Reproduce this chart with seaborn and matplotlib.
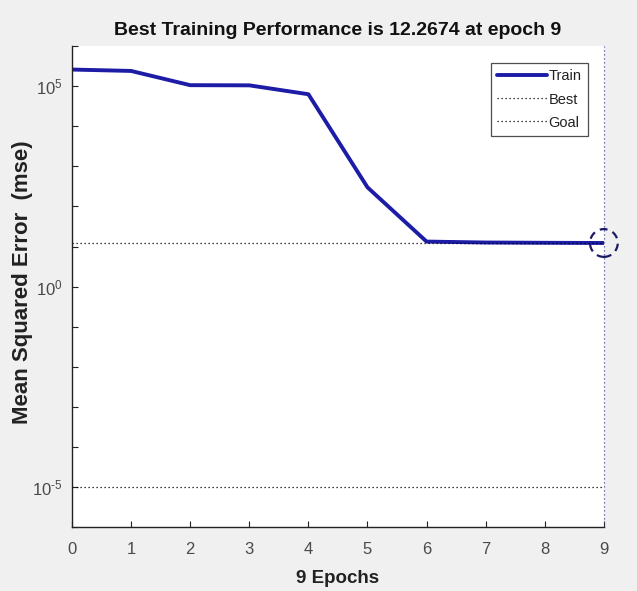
import matplotlib
matplotlib.use("Agg")
import matplotlib.pyplot as plt
import seaborn as sns
import pandas as pd

# Training record
epochs = [0, 1, 2, 3, 4, 5, 6, 7, 8, 9]
train_mse = [2.6e5, 2.4e5, 1.06e5, 1.05e5, 6.3e4, 300.0, 13.3, 12.6, 12.4, 12.2674]
best_epoch = 9
best_perf = 12.2674
goal = 1e-5
decade_labels = {5: "5", 0: "0", -5: "-5"}

title_text = f"Best Training Performance is {best_perf} at epoch {best_epoch}"

sns.set_style("ticks")
plt.rcParams["font.family"] = ["Liberation Sans", "DejaVu Sans"]
plt.rcParams["mathtext.fontset"] = "custom"
plt.rcParams["mathtext.rm"] = "Liberation Sans"
plt.rcParams["mathtext.it"] = "Liberation Sans"
plt.rcParams["mathtext.bf"] = "Liberation Sans:bold"
plt.rcParams["axes.unicode_minus"] = False

fig = plt.figure(figsize=(6.37, 5.91), dpi=100, facecolor="#f0f0f0")
ax = fig.add_axes([0.113, 0.108, 0.835, 0.814])
ax.set_facecolor("white")

df = pd.DataFrame({"Epoch": epochs, "MSE": train_mse})
blue = "#1c1ca6"
sns.lineplot(data=df, x="Epoch", y="MSE", ax=ax, color=blue, lw=2.8, label="Train")

# best / goal reference lines
dot = (0, (1, 2.2))
ax.axhline(best_perf, color="black", ls=dot, lw=0.9, label="Best")
ax.axvline(best_epoch, color="#50509a", ls=dot, lw=0.9, clip_on=False)
ax.axhline(goal, color="black", ls=dot, lw=0.9, label="Goal")

# best point marker
ax.scatter([best_epoch], [best_perf], s=400, facecolors="none",
           edgecolors="#1a1a66", linewidths=1.6, linestyle=(0, (3.5, 2.5)),
           zorder=5, clip_on=False)

ax.set_yscale("log")
ax.set_ylim(1e-6, 1e6)
ax.set_xlim(0, 9)
ax.set_xticks(epochs)
ax.set_xticklabels([str(e) for e in epochs])
ax.set_yticks([10.0 ** k for k in range(-6, 7)])
ax.set_yticklabels([r"$10^{\text{%s}}$" % decade_labels[k] if k in decade_labels else ""
                    for k in range(-6, 7)])
ax.minorticks_off()
ax.tick_params(axis="both", direction="in", length=4, width=0.8,
               labelsize=12, labelcolor="#4a4a4a", color="#222222")
ax.tick_params(axis="x", pad=11)
ax.tick_params(axis="y", pad=7)

for side in ("top", "right"):
    ax.spines[side].set_visible(False)
for side in ("left", "bottom"):
    ax.spines[side].set_linewidth(1.0)
    ax.spines[side].set_color("#222222")

ax.set_title(title_text, fontsize=14, fontweight="bold", color="#111111", pad=8)
ax.set_xlabel("9 Epochs", fontsize=13.5, fontweight="bold", color="#222222", labelpad=9)
ax.set_ylabel("Mean Squared Error  (mse)", fontsize=16, fontweight="bold",
              color="#222222")
ax.yaxis.set_label_coords(-0.073, 0.51)

leg = ax.legend(loc="upper right", bbox_to_anchor=(0.97, 0.965),
                prop={"size": 10.5},
                frameon=True, fancybox=False, handlelength=3.4, handletextpad=0.1,
                borderpad=0.45, labelspacing=0.62, borderaxespad=0)
leg.get_frame().set_edgecolor("#222222")
leg.get_frame().set_linewidth(0.9)
for t in leg.get_texts():
    t.set_color("#222222")

fig.savefig("out.png", dpi=100, facecolor=fig.get_facecolor())
